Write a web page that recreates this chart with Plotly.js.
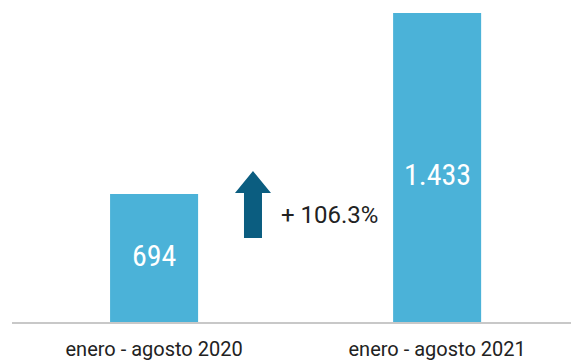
<!DOCTYPE html>
<html>
<head>
<meta charset="utf-8">
<script src="https://cdn.plot.ly/plotly-3.0.1.min.js"></script>
<style>
  html, body { margin: 0; padding: 0; background: #ffffff; }
  #chart { width: 571px; height: 361px; }
</style>
</head>
<body>
<div id="chart"></div>
<script>
// Periods compared and totals for each
const periods = ['enero - agosto 2020', 'enero - agosto 2021'];
const totals = [694, 1433];
const growthLabel = '+ 106.3%';

const CONDENSED = '"Roboto Condensed", "Liberation Sans Narrow", "DejaVu Sans Condensed", Roboto, sans-serif';
const REGULAR = 'Roboto, "Open Sans", sans-serif';

// Spanish thousands separator
const fmt = v => v.toLocaleString('de-DE');

// Vertical spot (as a share of each bar's value) where its label sits
const labelLift = [0.641, 0.54];

const trace = {
  type: 'bar',
  x: periods,
  y: totals,
  width: 0.311,
  marker: { color: '#4bb2d8' },
  textposition: 'none',
  hoverinfo: 'skip'
};

const layout = {
  width: 571,
  height: 361,
  margin: { l: 12, r: 0, t: 13, b: 39 },
  paper_bgcolor: '#ffffff',
  plot_bgcolor: '#ffffff',
  showlegend: false,
  xaxis: {
    type: 'category',
    range: [-0.502, 1.473],
    showline: true,
    linecolor: '#c8c8c8',
    linewidth: 2,
    ticks: '',
    ticklabelstandoff: 8,
    showgrid: false,
    tickfont: { family: REGULAR, size: 20, color: '#222222' }
  },
  yaxis: {
    range: [171.4, 1433],
    visible: false,
    showgrid: false,
    zeroline: false,
    fixedrange: true
  },
  shapes: [],
  annotations: [
    {
      xref: 'paper', yref: 'paper',
      x: 0.477, y: 0.345,
      xanchor: 'left', yanchor: 'middle',
      text: growthLabel,
      showarrow: false,
      font: { family: REGULAR, size: 24, color: '#222222' }
    }
  ].concat(totals.map((v, i) => ({
    x: periods[i], y: v * labelLift[i],
    xref: 'x', yref: 'y',
    text: fmt(v),
    showarrow: false,
    xanchor: 'center', yanchor: 'middle',
    font: { family: CONDENSED, size: 30, color: '#ffffff' }
  })))
};

// Upward growth arrow, outlined in pixels and converted to paper fractions
(function () {
  const W = 571 - 12 - 0, H = 361 - 13 - 39;
  const px = x => ((x - 12) / W).toFixed(4);
  const py = y => (1 - (y - 13) / H).toFixed(4);
  const pts = [[244, 238], [244, 193], [235, 193], [253, 171], [271, 193], [262, 193], [262, 238]];
  const d = pts.map((p, i) => (i ? 'L ' : 'M ') + px(p[0]) + ' ' + py(p[1])).join(' ') + ' Z';
  layout.shapes.push({
    type: 'path', xref: 'paper', yref: 'paper', path: d,
    fillcolor: '#0b5d80', line: { width: 0 }
  });
})();

Plotly.newPlot('chart', [trace], layout, { displayModeBar: false, staticPlot: true });
</script>
</body>
</html>
